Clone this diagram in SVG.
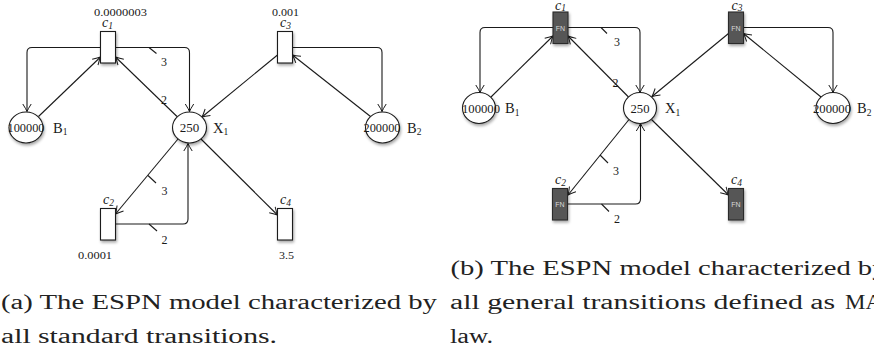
<svg xmlns="http://www.w3.org/2000/svg" width="874" height="352" viewBox="0 0 874 352">
  <style>
    .place { fill: #fff; stroke: #1a1a1a; stroke-width: 1.1; }
    .trans { fill: #fff; stroke: #1a1a1a; stroke-width: 1.1; }
    .gtrans { fill: #575757; stroke: #2a2a2a; stroke-width: 1.1; }
    .arc { fill: none; stroke: #1a1a1a; stroke-width: 1.1; marker-end: url(#head); }
    .tick { fill: none; stroke: #1a1a1a; stroke-width: 1.1; }
    text { font-family: "Liberation Serif", "Times New Roman", serif; fill: #1a1a1a; }
    .tok { font-size: 13px; text-anchor: middle; }
    .name { font-size: 14.5px; }
    .sub { font-size: 9.5px; }
    .tlab { font-size: 14px; font-style: italic; }
    .rate { font-size: 10px; }
    .w { font-size: 12px; text-anchor: middle; }
    .fn { font-family: "Liberation Sans", Arial, sans-serif; font-size: 7px; fill: #d8d8d8; text-anchor: middle; }
    .cap { font-size: 20px; fill: #222; }
  </style>
  <defs>
    <marker id="head" viewBox="-8 -5 10 10" refX="0" refY="0" markerWidth="10" markerHeight="10" markerUnits="userSpaceOnUse" orient="auto">
      <path d="M-7.5,-4.2 Q-2.5,-1 0,0 Q-2.5,1 -7.5,4.2" fill="none" stroke="#1a1a1a" stroke-width="1"/>
    </marker>
    <filter id="shadow" x="-50%" y="-50%" width="200%" height="200%">
      <feGaussianBlur in="SourceAlpha" stdDeviation="1.6"/>
      <feOffset dx="1" dy="2.2" result="b"/>
      <feComponentTransfer><feFuncA type="linear" slope="0.35"/></feComponentTransfer>
      <feMerge><feMergeNode/><feMergeNode in="SourceGraphic"/></feMerge>
    </filter>
  </defs>

  <!-- ===== (a) standard transitions ===== -->
  <g id="a-connectors">
    <path class="arc" d="M100.5,47.5 H32 Q27,47.5 27,52.5 V111.5"/>
    <path class="arc" d="M38.5,116.5 L100.5,57"/>
    <path class="arc" d="M115.5,47.5 H184.5 Q189.5,47.5 189.5,52.5 V111.5"/>
    <path class="tick" d="M149,47.5 L156.5,53.5"/>
    <text class="w" x="164" y="66">3</text>
    <path class="arc" d="M177,116.5 L115.5,57"/>
    <text class="w" x="164" y="104">2</text>
    <path class="arc" d="M277.5,55 L202,117"/>
    <path class="arc" d="M370.5,116.5 L292.5,55"/>
    <path class="arc" d="M292.5,47.5 H377 Q382,47.5 382,52.5 V111.5"/>
    <path class="arc" d="M178,139 L115.5,214"/>
    <path class="tick" d="M148,175.5 L156,183"/>
    <text class="w" x="164.5" y="195">3</text>
    <path class="arc" d="M115.5,224 H183 Q188,224 188,219 V143.5"/>
    <path class="tick" d="M149,224 L157,231"/>
    <text class="w" x="164.5" y="244">2</text>
    <path class="arc" d="M201,139 L277.5,215"/>
  </g>

  <g id="a-B1">
    <ellipse class="place" cx="26" cy="127.5" rx="17" ry="15.5" filter="url(#shadow)"/>
    <text class="tok" x="26" y="132" textLength="37" lengthAdjust="spacingAndGlyphs">100000</text>
    <text class="name" x="53" y="132.5">B<tspan class="sub" dy="2.5">1</tspan></text>
  </g>
  <g id="a-X1">
    <ellipse class="place" cx="189.5" cy="127.5" rx="17" ry="15.5" filter="url(#shadow)"/>
    <text class="tok" x="189.5" y="132" textLength="19.5" lengthAdjust="spacingAndGlyphs">250</text>
    <text class="name" x="213" y="132.5">X<tspan class="sub" dy="2.5">1</tspan></text>
  </g>
  <g id="a-B2">
    <ellipse class="place" cx="382.5" cy="127.5" rx="17" ry="15.5" filter="url(#shadow)"/>
    <text class="tok" x="382" y="132" textLength="37" lengthAdjust="spacingAndGlyphs">200000</text>
    <text class="name" x="407" y="132.5">B<tspan class="sub" dy="2.5">2</tspan></text>
  </g>
  <g id="a-c1">
    <rect class="trans" x="100.5" y="31.5" width="15" height="31.5" filter="url(#shadow)"/>
    <text class="tlab" x="102" y="27">c<tspan class="sub" dy="2">1</tspan></text>
    <text class="rate" x="94" y="16" textLength="53" lengthAdjust="spacingAndGlyphs">0.0000003</text>
  </g>
  <g id="a-c3">
    <rect class="trans" x="277.5" y="31.5" width="15" height="31.5" filter="url(#shadow)"/>
    <text class="tlab" x="280" y="27">c<tspan class="sub" dy="2">3</tspan></text>
    <text class="rate" x="272" y="16" textLength="27" lengthAdjust="spacingAndGlyphs">0.001</text>
  </g>
  <g id="a-c2">
    <rect class="trans" x="100.5" y="208.5" width="15" height="31.5" filter="url(#shadow)"/>
    <text class="tlab" x="103" y="204">c<tspan class="sub" dy="2">2</tspan></text>
    <text class="rate" x="78" y="259" textLength="34" lengthAdjust="spacingAndGlyphs">0.0001</text>
  </g>
  <g id="a-c4">
    <rect class="trans" x="277.5" y="208.5" width="15" height="31.5" filter="url(#shadow)"/>
    <text class="tlab" x="280" y="204">c<tspan class="sub" dy="2">4</tspan></text>
    <text class="rate" x="279" y="259" textLength="15" lengthAdjust="spacingAndGlyphs">3.5</text>
  </g>

  <!-- ===== (b) general transitions ===== -->
  <g id="b-connectors">
    <path class="arc" d="M553,27.5 H485 Q480,27.5 480,32.5 V92.5"/>
    <path class="arc" d="M491,97 L553,36"/>
    <path class="arc" d="M568,27.5 H635 Q640,27.5 640,32.5 V92.5"/>
    <path class="tick" d="M601,27.5 L607,33.5"/>
    <text class="w" x="617" y="45.5">3</text>
    <path class="arc" d="M628.5,97 L568,36"/>
    <text class="w" x="615.5" y="86.5">2</text>
    <path class="arc" d="M728.5,33.5 L652,96.5"/>
    <path class="arc" d="M821,97 L743.5,33.5"/>
    <path class="arc" d="M743.5,27.5 H828 Q833,27.5 833,32.5 V92.5"/>
    <path class="arc" d="M629,119.5 L568,195"/>
    <path class="tick" d="M600,155 L608,163"/>
    <text class="w" x="616" y="175">3</text>
    <path class="arc" d="M567.5,204 H635.5 Q640.5,204 640.5,199 V123.5"/>
    <path class="tick" d="M601.5,204 L609,211.5"/>
    <text class="w" x="617" y="222.5">2</text>
    <path class="arc" d="M651.5,119.5 L728.5,195"/>
  </g>

  <g id="b-B1">
    <ellipse class="place" cx="479" cy="108" rx="16.5" ry="15.5" filter="url(#shadow)"/>
    <text class="tok" x="481" y="112.5" textLength="38" lengthAdjust="spacingAndGlyphs">100000</text>
    <text class="name" x="505" y="113">B<tspan class="sub" dy="2.5">1</tspan></text>
  </g>
  <g id="b-X1">
    <ellipse class="place" cx="640" cy="108" rx="16.5" ry="15.5" filter="url(#shadow)"/>
    <text class="tok" x="640" y="112.5" textLength="19" lengthAdjust="spacingAndGlyphs">250</text>
    <text class="name" x="665" y="113">X<tspan class="sub" dy="2.5">1</tspan></text>
  </g>
  <g id="b-B2">
    <ellipse class="place" cx="833" cy="108" rx="17" ry="15.5" filter="url(#shadow)"/>
    <text class="tok" x="832" y="112.5" textLength="38" lengthAdjust="spacingAndGlyphs">200000</text>
    <text class="name" x="857" y="113">B<tspan class="sub" dy="2.5">2</tspan></text>
  </g>
  <g id="b-c1">
    <rect class="gtrans" x="553" y="12" width="15" height="31.5" filter="url(#shadow)"/>
    <text class="fn" x="560.5" y="30.5">FN</text>
    <text class="tlab" x="555" y="9.5">c<tspan class="sub" dy="1.5">1</tspan></text>
  </g>
  <g id="b-c3">
    <rect class="gtrans" x="728.5" y="12" width="15" height="31.5" filter="url(#shadow)"/>
    <text class="fn" x="736" y="30.5">FN</text>
    <text class="tlab" x="731.5" y="9.5">c<tspan class="sub" dy="1.5">3</tspan></text>
  </g>
  <g id="b-c2">
    <rect class="gtrans" x="552.5" y="188.5" width="15" height="31.5" filter="url(#shadow)"/>
    <text class="fn" x="560" y="206.5">FN</text>
    <text class="tlab" x="555" y="184">c<tspan class="sub" dy="2">2</tspan></text>
  </g>
  <g id="b-c4">
    <rect class="gtrans" x="728.5" y="188.5" width="15" height="31.5" filter="url(#shadow)"/>
    <text class="fn" x="736" y="206.5">FN</text>
    <text class="tlab" x="731" y="184">c<tspan class="sub" dy="2">4</tspan></text>
  </g>

  <!-- captions -->
  <text class="cap" x="1" y="309" textLength="436" lengthAdjust="spacingAndGlyphs">(a) The ESPN model characterized by</text>
  <text class="cap" x="1" y="343" textLength="276" lengthAdjust="spacingAndGlyphs">all standard transitions.</text>
  <text class="cap" x="450.5" y="275" textLength="436" lengthAdjust="spacingAndGlyphs">(b) The ESPN model characterized by</text>
  <text class="cap" x="450" y="309" textLength="385" lengthAdjust="spacingAndGlyphs">all general transitions defined as</text>
  <text class="cap" x="845" y="309" textLength="37" lengthAdjust="spacingAndGlyphs">MA</text>
  <text class="cap" x="450" y="343" textLength="43" lengthAdjust="spacingAndGlyphs">law.</text>
</svg>
